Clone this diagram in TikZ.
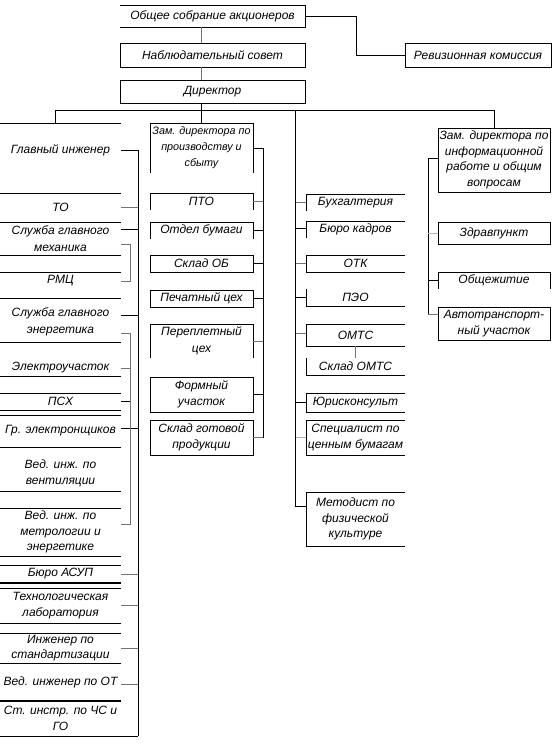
\documentclass[tikz,border=0pt]{standalone}
\usepackage{fontspec}
\setmainfont{Liberation Sans}
\begin{document}
\begin{tikzpicture}[x=1pt,y=-1pt,
  bx/.style={inner sep=0pt,outer sep=0pt,align=center,font=\itshape\fontsize{12}{15.5}\selectfont},
  sbx/.style={bx,font=\itshape\fontsize{10.8}{16}\selectfont},
  ln/.style={line width=0.8pt,black},
  gln/.style={line width=0.8pt,black!55},
  lgln/.style={line width=0.8pt,black!30},
  thk/.style={line width=1.8pt,black}]
\useasboundingbox[fill=white] (0,0) rectangle (553,744);

% ---------- top ----------
\node[bx,minimum width=185pt,minimum height=22pt] (obs) at (212.5,16) {Общее собрание акционеров};
\node[bx,minimum width=185pt,minimum height=24pt] (nab) at (212.5,55) {Наблюдательный совет};
\node[bx,minimum width=185pt,minimum height=23pt] (dir) at (212.5,91.5) {Директор};
\node[bx,minimum width=146pt,minimum height=24pt] (rev) at (478,55) {Ревизионная комиссия};
\draw[ln] (obs.north west) -- (obs.north east) -- (obs.south east) -- (obs.south west);
\draw[ln] (nab.north west) rectangle (nab.south east);
\draw[ln] (dir.north west) rectangle (dir.south east);
\draw[ln] (rev.north west) rectangle (rev.south east);

% ---------- left column ----------
\node[bx,minimum width=121pt,minimum height=54pt] (gi) at (60.5,150) {Главный инженер};
\node[bx,minimum width=121pt,minimum height=29pt] (to) at (60.5,207.5) {ТО};
\node[bx,minimum width=121pt,minimum height=33pt] (sgm) at (60.5,238.5) {Служба главного\\[2pt]механика};
\node[bx,minimum width=121pt,minimum height=18pt] (rmc) at (60.5,281) {РМЦ};
\node[bx,minimum width=121pt,minimum height=44pt] (sge) at (60.5,322) {Служба главного\\[2pt]энергетика};
\node[bx,minimum width=121pt,minimum height=16pt] (eu) at (60.5,368) {Электроучасток};
\node[bx,minimum width=121pt,minimum height=17pt] (psx) at (60.5,401.5) {ПСХ};
\node[bx,minimum width=121pt,minimum height=32pt] (ge) at (60.5,431) {Гр. электронщиков};
\node[bx,minimum width=121pt,minimum height=35pt] (vv) at (60.5,473.5) {Вед. инж. по\\вентиляции};
\node[bx,minimum width=121pt,minimum height=48pt] (vm) at (60.5,532) {Вед. инж. по\\метрологии и\\энергетике};
\node[bx,minimum width=121pt,minimum height=18pt] (asup) at (60.5,574) {Бюро АСУП};
\node[bx,minimum width=121pt,minimum height=35pt] (tl) at (60.5,605.5) {Технологическая\\лаборатория};
\node[bx,minimum width=121pt,minimum height=30pt] (is) at (60.5,648) {Инженер по\\стандартизации};
\node[bx,minimum width=121pt,minimum height=38pt] (ot) at (60.5,682) {Вед. инженер по ОТ};
\node[bx,minimum width=121pt,minimum height=35pt] (chs) at (60.5,718.5) {Ст. инстр. по ЧС и\\ГО};

\draw[ln] (gi.north west) -- (gi.north east);
\draw[ln] (to.north west) -- (to.north east) (to.south west) -- (to.south east);
\draw[ln] (sgm.south west) -- (sgm.south east);
\draw[ln] (rmc.north west) -- (rmc.north east);
\draw[ln] ([yshift=2pt]sge.north west) -- ([yshift=2pt]sge.north east) ([yshift=2pt]sge.south west) -- ([yshift=2pt]sge.south east);
\draw[ln] (eu.south west) -- (eu.south east);
\draw[ln] (psx.north west) -- (psx.north east) (psx.south west) -- (psx.south east);
\draw[ln] (ge.north west) -- (ge.north east) (ge.south west) -- (ge.south east);
\draw[ln] (vv.south west) -- (vv.south east);
\draw[ln] (vm.north west) -- (vm.north east) (vm.south west) -- (vm.south east);
\draw[ln] (asup.north west) -- (asup.north east);
\draw[thk] (asup.south west) -- (asup.south east);
\draw[ln] (tl.north west) -- (tl.north east) (tl.south west) -- (tl.south east);
\draw[ln] (is.north west) -- (is.north east) (is.south west) -- (is.south east);
\draw[thk] (ot.south west) -- (ot.south east);
\draw[ln] (chs.south west) -- (chs.south east);

% left connectors
\draw[ln] (gi.east) -- ++(17,0) coordinate (ls1);
\draw[ln] (chs.south east) -- ++(17,0) coordinate (ls2);
\draw[ln] (ls1) -- (ls2);
\draw[gln] (to.east) -- ++(17,0);
\draw[ln] ([yshift=9.5pt]sgm.east) -- ++(17,0);
\draw[ln] ([yshift=7pt]sge.east) -- ++(17,0);
\draw[ln] ([yshift=3pt]ge.east) -- ++(17,0);
\draw[gln] (asup.east) -- ++(17,0);
\draw[gln] (tl.east) -- ++(17,0);
\draw[gln] (is.east) -- ++(17,0);
\draw[gln] ([yshift=-2pt]ot.east) -- ++(17,0);
% brackets
\draw[gln] ([yshift=-6pt]sgm.east) -- ++(9,0) |- (rmc.east);
\draw[gln] ([yshift=-11pt]sge.east) -- ++(9,0) |- ([yshift=8pt]vm.east);
\draw[gln] (eu.east) -- ++(9,0);
\draw[ln] (psx.east) -- ++(9,0);

% ---------- middle column ----------
\node[sbx,minimum width=103pt,minimum height=50pt] (zp) at (201.5,148) {Зам. директора по\\производству и\\сбыту};
\node[bx,minimum width=103pt,minimum height=17pt] (pto) at (201.5,201.5) {ПТО};
\node[bx,minimum width=103pt,minimum height=17pt] (ob) at (201.5,230.5) {Отдел бумаги};
\node[bx,minimum width=103pt,minimum height=17pt] (sob) at (201.5,263.5) {Склад ОБ};
\node[bx,minimum width=103pt,minimum height=17pt] (pc) at (201.5,298.5) {Печатный цех};
\node[bx,minimum width=103pt,minimum height=34pt] (pp) at (201.5,341) {Переплетный\\[2pt]цех};
\node[bx,minimum width=103pt,minimum height=35pt] (fu) at (201.5,394.5) {Формный\\участок};
\node[bx,minimum width=103pt,minimum height=35pt] (sgp) at (201.5,437.5) {Склад готовой\\продукции};

\draw[ln] (zp.south west) -- (zp.north west) -- (zp.north east) -- (zp.south east);
\draw[ln] (pto.south west) -- (pto.north west) -- (pto.north east) -- (pto.south east);
\draw[ln] (ob.south west) -- (ob.north west) -- (ob.north east) -- (ob.south east);
\draw[ln] (sob.north west) rectangle (sob.south east);
\draw[ln] (pc.north west) rectangle (pc.south east);
\draw[ln] (pp.south west) -- (pp.north west) -- (pp.north east) -- (pp.south east);
\draw[ln] (fu.north west) rectangle (fu.south east);
\draw[ln] (sgp.north west) rectangle (sgp.south east);

\draw[ln] (zp.east) -- ++(10,0) coordinate (ms1);
\draw[gln] (sgp.east) -- ++(10,0) coordinate (ms2);
\draw[ln] (ms1) -- (ms2);
\draw[gln] (pto.east) -- ++(10,0);
\draw[ln] (ob.east) -- ++(10,0);
\draw[ln] (sob.east) -- ++(10,0);
\draw[ln] (pc.east) -- ++(10,0);
\draw[gln] (pp.east) -- ++(10,0);
\draw[ln] (fu.east) -- ++(10,0);

% ---------- third column ----------
\node[bx,minimum width=99pt,minimum height=17pt] (bux) at (355.5,202.5) {Бухгалтерия};
\node[bx,minimum width=99pt,minimum height=17pt] (bk) at (355.5,229.5) {Бюро кадров};
\node[bx,minimum width=99pt,minimum height=17pt] (otk) at (355.5,263.5) {ОТК};
\node[bx,minimum width=99pt,minimum height=17pt] (peo) at (355.5,297.5) {ПЭО};
\node[bx,minimum width=99pt,minimum height=22pt] (omts) at (355.5,335) {ОМТС};
\node[bx,minimum width=99pt,minimum height=17pt] (somts) at (355.5,366.5) {Склад ОМТС};
\node[bx,minimum width=99pt,minimum height=19pt] (yur) at (355.5,402.5) {Юрисконсульт};
\node[bx,minimum width=99pt,minimum height=35pt] (spec) at (355.5,437.5) {Специалист по\\ценным бумагам};
\node[bx,minimum width=99pt,minimum height=54pt] (met) at (355.5,519) {Методист по\\физической\\культуре};

\draw[ln] (bux.south west) -- (bux.north west) -- (bux.north east);
\draw[ln] (bk.south west) -- (bk.north west) -- (bk.north east);
\draw[ln] (otk.north east) -- (otk.north west) -- (otk.south west) -- (otk.south east);
\draw[ln] (peo.north west) -- (peo.south west) -- (peo.south east);
\draw[ln] (omts.north east) -- (omts.north west) -- (omts.south west) -- (omts.south east);
\draw[ln] (somts.north west) -- (somts.south west) -- (somts.south east);
\draw[ln] (yur.north east) -- (yur.north west) -- (yur.south west) -- (yur.south east);
\draw[ln] (spec.north east) -- (spec.north west) -- (spec.south west) -- (spec.south east);
\draw[ln] (met.north east) -- (met.north west) -- (met.south west) -- (met.south east);
\draw[gln] (omts.south) -- (somts.north);

\draw[ln] ([yshift=13pt]met.west) -- ++(-11,0) coordinate (ts2);
\draw[gln] (bux.west) -- ++(-11,0);
\draw[ln] ([yshift=1.5pt]bk.west) -- ++(-11,0);
\draw[gln] (otk.west) -- ++(-11,0);
\draw[ln] (peo.west) -- ++(-11,0);
\draw[gln] ([yshift=2pt]omts.west) -- ++(-11,0);
\draw[ln] (yur.west) -- ++(-11,0);
\draw[lgln] (spec.west) -- ++(-11,0);

% ---------- fourth column ----------
\node[bx,minimum width=112pt,minimum height=64pt] (zi) at (494,160) {Зам. директора по\\информационной\\работе и общим\\вопросам};
\node[bx,minimum width=112pt,minimum height=22pt] (zdr) at (494,233) {Здравпункт};
\node[bx,minimum width=112pt,minimum height=17pt] (obsh) at (494,280.5) {Общежитие};
\node[bx,minimum width=112pt,minimum height=33pt] (avto) at (494,323.5) {Автотранспорт-\\ный участок};

\draw[ln] (zi.north west) rectangle (zi.south east);
\draw[ln] (zdr.north west) rectangle (zdr.south east);
\draw[ln] (obsh.south west) -- (obsh.north west) -- (obsh.north east) -- (obsh.south east);
\draw[ln] (avto.north west) rectangle (avto.south east);

\draw[ln] ([yshift=2pt]zi.west) -- ++(-10,0) coordinate (fs1);
\draw[gln] ([yshift=9.5pt]avto.west) -- ++(-10,0) coordinate (fs2);
\draw[ln] (fs1) -- (fs2);
\draw[lgln] (zdr.west) -- ++(-10,0);
\draw[ln] (obsh.west) -- ++(-10,0);

% ---------- bus and top connectors ----------
\coordinate (lb) at (55,110);
\coordinate (ts1) at (295,110);
\draw[ln] (lb |- gi.north) -- (lb) -- (zi.north |- lb) -- (zi.north);
\draw[ln] (ts1) -- (ts2);
\draw[gln] (zp.north |- obs.south) -- (zp.north |- nab.north);
\draw[gln] (zp.north |- nab.south) -- (zp.north |- dir.north);
\draw[ln] (zp.north |- dir.south) -- (zp.north);
\draw[ln] (obs.east) -- ++(51,0) |- (rev.west);
\end{tikzpicture}
\end{document}
